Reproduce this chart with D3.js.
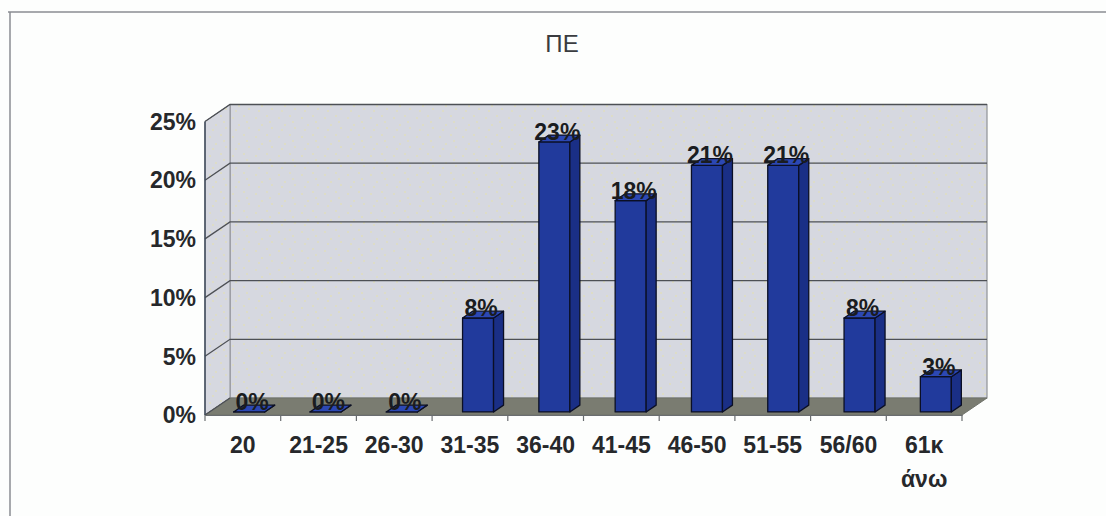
<!DOCTYPE html>
<html>
<head>
<meta charset="utf-8">
<script src="https://cdn.jsdelivr.net/npm/d3@7"></script>
<style>
  html, body { margin: 0; padding: 0; background: #fdfefd; }
  svg { display: block; }
</style>
</head>
<body>
<svg id="chart" width="1106" height="516"></svg>
<script>
// Age groups and share of staff per group (percent)
const categories = ["20", "21-25", "26-30", "31-35", "36-40", "41-45", "46-50", "51-55", "56/60", "61κ άνω"];
const values = [0, 0, 0, 8, 23, 18, 21, 21, 8, 3];
const yTicks = [0, 5, 10, 15, 20, 25];
const title = "ΠΕ";

const svg = d3.select("#chart");
const font = "'Liberation Sans', Arial, sans-serif";

// 3D box geometry: front plane and depth offset of the back wall
const x0 = 205, x1 = 962, yFloor = 415;
const depthX = 25, depthY = 17;

const x = d3.scaleBand().domain(categories).range([x0, x1]);
const xBars = d3.scaleBand().domain(categories).range([x0 + 6, x1 + 12]);
const y = d3.scaleLinear().domain([0, 25]).range([0, 293.5]);

// project a point (px, value, depth fraction) onto the page
const P = (px, v, f) => [px + depthX * f, yFloor - depthY * f - y(v)];
const poly = pts => "M" + pts.map(p => p.join(",")).join("L") + "Z";

// outer frame
svg.append("line").attr("x1", 8).attr("x2", 1106).attr("y1", 12).attr("y2", 12)
  .attr("stroke", "#8a8d92").attr("stroke-width", 1.5);
svg.append("line").attr("x1", 10).attr("x2", 10).attr("y1", 12).attr("y2", 516)
  .attr("stroke", "#8a8d92").attr("stroke-width", 1.5);

// speckled wall texture
const defs = svg.append("defs");
const pat = defs.append("pattern").attr("id", "speckle").attr("patternUnits", "userSpaceOnUse")
  .attr("width", 23).attr("height", 19);
pat.append("rect").attr("width", 23).attr("height", 19).attr("fill", "#d6d8e0");
[[3, 4], [14, 2], [9, 11], [19, 14], [6, 16], [17, 8]].forEach(([a, b]) =>
  pat.append("circle").attr("cx", a).attr("cy", b).attr("r", 0.8).attr("fill", "#e6e3a8"));

// back wall
svg.append("path")
  .attr("d", poly([P(x0, 25, 1), P(x1, 25, 1), P(x1, 0, 1), P(x0, 0, 1)]))
  .attr("fill", "url(#speckle)").attr("stroke", "#8f9297").attr("stroke-width", 1.2);

// side wall
svg.append("path")
  .attr("d", poly([P(x0, 25, 0), P(x0, 25, 1), P(x0, 0, 1), P(x0, 0, 0)]))
  .attr("fill", "url(#speckle)").attr("stroke", "#8f9297").attr("stroke-width", 1);

// floor
svg.append("path")
  .attr("d", poly([P(x0, 0, 0), P(x0, 0, 1), P(x1, 0, 1), P(x1, 0, 0)]))
  .attr("fill", "#7a7c71").attr("stroke", "#6f726a").attr("stroke-width", 1);

// gridlines on back and side walls
const grid = svg.append("g").attr("stroke", "#4d5055").attr("stroke-width", 1.3).attr("fill", "none");
yTicks.filter(t => t > 0).forEach(t => {
  grid.append("path").attr("d", "M" + P(x0, t, 0).join(",") + "L" + P(x0, t, 1).join(",") + "L" + P(x1, t, 1).join(","));
});
grid.append("path").attr("d", "M" + P(x0, 0, 0).join(",") + "L" + P(x0, 0, 1).join(","));

// vertical axis line
svg.append("line")
  .attr("x1", x0).attr("x2", x0).attr("y1", P(x0, 25, 0)[1]).attr("y2", yFloor)
  .attr("stroke", "#3e4a5a").attr("stroke-width", 1.5);

// x axis ticks at the category boundaries
const xAxis = d3.axisBottom(x).tickSize(0).tickFormat("");
const gx = svg.append("g").attr("transform", `translate(0,${yFloor})`).call(xAxis);
gx.select(".domain").attr("stroke", "#6a6d70").attr("stroke-width", 1.2);
const boundaries = categories.map(c => x(c)).concat([x1]);
gx.selectAll("line.bound").data(boundaries).join("line").attr("class", "bound")
  .attr("x1", d => d).attr("x2", d => d).attr("y1", 0).attr("y2", 6)
  .attr("stroke", "#6a6d70").attr("stroke-width", 1.2);

// y axis labels
svg.append("g").selectAll("text").data(yTicks).join("text")
  .attr("x", 196).attr("y", d => P(x0, d, 0)[1])
  .attr("dy", "0.36em").attr("text-anchor", "end")
  .attr("font-family", font).attr("font-weight", "bold").attr("font-size", 23)
  .attr("fill", "#26282b").text(d => d + "%");

// x labels (wrapped onto two lines where the name has a space)
const xl = svg.append("g").selectAll("text").data(categories).join("text")
  .attr("x", d => x(d) + x.bandwidth() / 2).attr("y", 453)
  .attr("text-anchor", "middle")
  .attr("font-family", font).attr("font-weight", "bold").attr("font-size", 23)
  .attr("fill", "#26282b");
xl.each(function (d) {
  const parts = d.split(" ");
  const t = d3.select(this);
  parts.forEach((p, i) => t.append("tspan")
    .attr("x", x(d) + x.bandwidth() / 2).attr("dy", i === 0 ? 0 : 34).text(p));
});

// bars
const f0 = 0.18, f1 = 0.58, barW = 31;
const bars = svg.append("g");
categories.forEach((c, i) => {
  const v = values[i];
  const left = xBars(c) + xBars.bandwidth() / 2 - barW / 2 - depthX * f0;
  const right = left + barW;
  const g = bars.append("g").attr("stroke", "#0b0f24").attr("stroke-width", 1.3).attr("stroke-linejoin", "round");
  // front face
  g.append("path").attr("d", poly([P(left, 0, f0), P(right, 0, f0), P(right, v, f0), P(left, v, f0)]))
    .attr("fill", "#213a9c");
  // side face
  g.append("path").attr("d", poly([P(right, 0, f0), P(right, 0, f1), P(right, v, f1), P(right, v, f0)]))
    .attr("fill", "#1a2f86");
  // top face
  g.append("path").attr("d", poly([P(left, v, f0), P(right, v, f0), P(right, v, f1), P(left, v, f1)]))
    .attr("fill", "#2c48b4");
});

// value labels above each bar
svg.append("g").selectAll("text").data(categories).join("text")
  .attr("x", c => xBars(c) + xBars.bandwidth() / 2 + 3)
  .attr("y", (c, i) => P(0, values[i], f0)[1] - 2)
  .attr("text-anchor", "middle")
  .attr("font-family", font).attr("font-weight", "bold").attr("font-size", 23)
  .attr("fill", "#1a1c20")
  .text((c, i) => values[i] + "%");

// chart title
svg.append("text").attr("x", 562).attr("y", 52).attr("text-anchor", "middle")
  .attr("font-family", font).attr("font-size", 24).attr("fill", "#3a3c40").text(title);
</script>
</body>
</html>
